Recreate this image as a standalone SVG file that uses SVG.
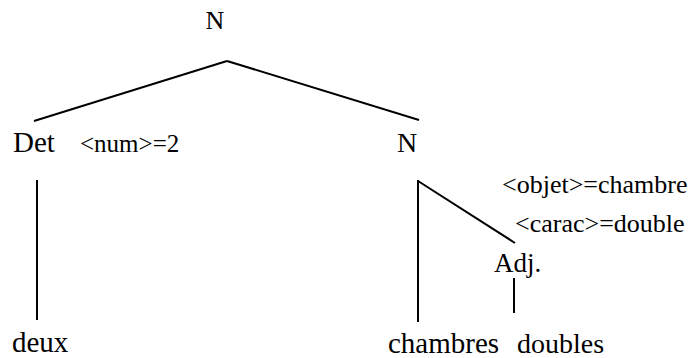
<svg xmlns="http://www.w3.org/2000/svg" width="691" height="358" viewBox="0 0 691 358">
<style>
.t{font-family:'Liberation Serif','Times New Roman','Noto Serif','DejaVu Serif',serif;fill:#000}
.big{font-size:29px}
.sm{font-size:26px}
.edge{stroke:#000;stroke-width:2;fill:none;stroke-linecap:butt}
</style>
<rect width="691" height="358" fill="#fff"/>
<g id="connectors">
<line class="edge" x1="227" y1="61" x2="34" y2="121"/>
<line class="edge" x1="227" y1="61" x2="419" y2="120"/>
<line class="edge" x1="37" y1="180" x2="37" y2="320"/>
<line class="edge" x1="418" y1="180" x2="418" y2="322"/>
<line class="edge" x1="418" y1="181" x2="515" y2="243"/>
<line class="edge" x1="514" y1="278" x2="514" y2="313"/>
</g>
<g id="n-root"><text class="t big" style="font-size:26px" x="215" y="29" text-anchor="middle">N</text></g>
<g id="det"><text class="t big" x="13" y="152">Det</text><text class="t sm" style="font-size:25px" x="80" y="152">&lt;num&gt;=2</text></g>
<g id="n-mid"><text class="t big" style="font-size:28px" x="397" y="152">N</text></g>
<g id="feat"><text class="t sm" x="502" y="193">&lt;objet&gt;=chambre</text><text class="t sm" x="515" y="232">&lt;carac&gt;=double</text></g>
<g id="adj"><text class="t big" style="font-size:27px" x="494" y="272">Adj.</text></g>
<g id="deux"><text class="t big" x="12" y="352">deux</text></g>
<g id="chambres"><text class="t big" x="388" y="353">chambres</text></g>
<g id="doubles"><text class="t big" style="font-size:28px" x="517" y="353">doubles</text></g>
</svg>
